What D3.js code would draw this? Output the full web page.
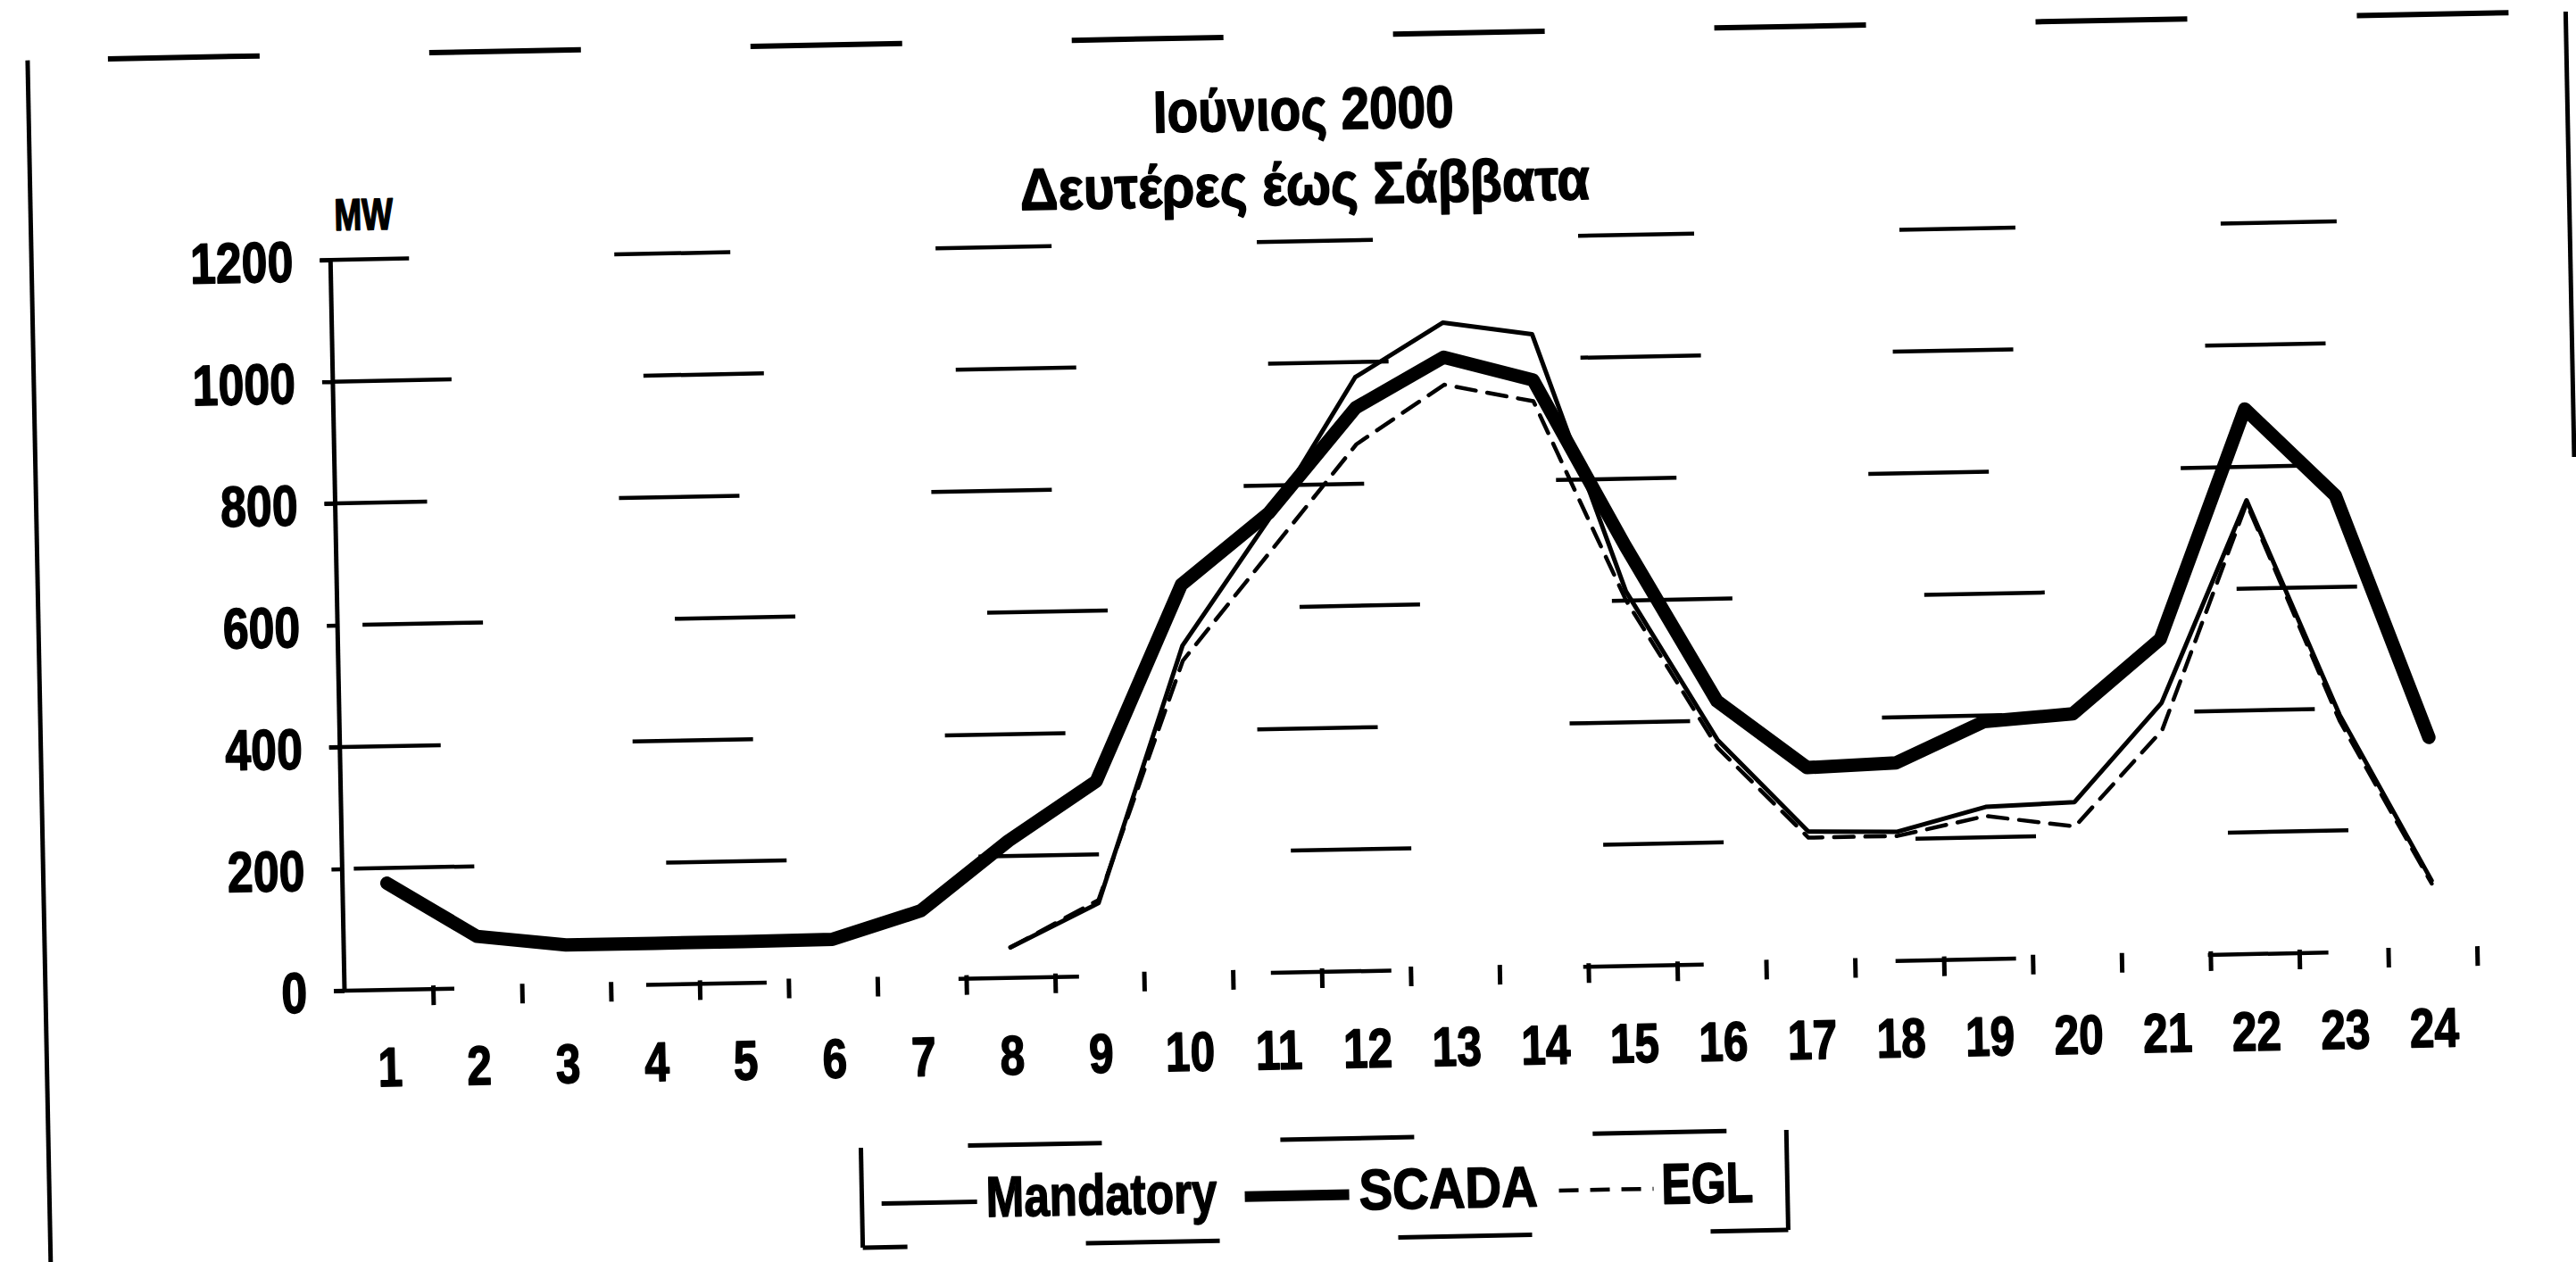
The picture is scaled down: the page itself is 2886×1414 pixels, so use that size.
<!DOCTYPE html>
<html>
<head>
<meta charset="utf-8">
<script src="https://cdn.jsdelivr.net/npm/d3@7"></script>
<style>
  html, body { margin: 0; padding: 0; background: #ffffff; }
  svg { display: block; }
</style>
</head>
<body>
<svg id="chart" width="2886" height="1414"></svg>
<script>
// ---------------- DATA ----------------
const titleLines = ["Ιούνιος 2000", "Δευτέρες έως Σάββατα"];
const unitLabel = "MW";
const hourLabels = ["1","2","3","4","5","6","7","8","9","10","11","12",
                    "13","14","15","16","17","18","19","20","21","22","23","24"];
const yTickValues = [0, 200, 400, 600, 800, 1000, 1200];
const seriesNames = ["Mandatory", "SCADA", "EGL"];
const mandatory = [null, null, null, null, null, null, null, 50, 120, 540, 745, 975,
                   1062, 1040, 615, 368, 215, 212, 250, 255, 415, 745, 390, 115];
const scada     = [175, 85, 68, 68, 68, 69, 113, 225, 320, 640, 755, 925,
                   1005, 965, 690, 432, 320, 325, 390, 400, 520, 895, 750, 350];
const egl       = [null, null, null, null, null, null, null, 50, 125, 515, 690, 865,
                   960, 930, 600, 355, 205, 205, 235, 215, 370, 740, 380, 110];

// ---------------- LAYOUT ----------------
const W = 2886, H = 1414;
const plot = { left: 386, right: 2776, top: 291, bottom: 1110 };
const skew = -1.1; // the scanned page is slightly rotated
const font = "'Liberation Sans Narrow', 'Arial Narrow', 'Liberation Sans', Arial, sans-serif";
const ink = "#000000";
const narrow = 0.81; // condensed (Arial Narrow-like) lettering
const bleed = 1.6;   // heavy, ink-bled lettering of the scan

function condense(sel, f) {
  sel.each(function () {
    const len = this.getComputedTextLength();
    if (len > 0) {
      d3.select(this).attr("textLength", len * f).attr("lengthAdjust", "spacingAndGlyphs");
    }
  });
  sel.attr("stroke", ink).attr("stroke-width", bleed).attr("stroke-linejoin", "round");
}

const svg = d3.select("#chart").attr("viewBox", `0 0 ${W} ${H}`);
svg.append("rect").attr("width", W).attr("height", H).attr("fill", "#ffffff");

const page = svg.append("g")
  .attr("transform", `rotate(${skew},${plot.left},${plot.bottom})`);

const x = d3.scaleBand().domain(hourLabels).range([plot.left, plot.right]).padding(0);
const xc = h => x(h) + x.bandwidth() / 2;
const y = d3.scaleLinear().domain([0, 1200]).range([plot.bottom, plot.top]);

// ---------------- FRAME (outer border, fragmented like the scan) ----------------
const frame = { left: 51, top: 61, right: 2895, bottom: 1500, rightEnd: 560 };
page.append("line").attr("x1", frame.left).attr("x2", frame.left)
  .attr("y1", frame.top).attr("y2", frame.bottom)
  .attr("stroke", ink).attr("stroke-width", 5);
page.append("line").attr("x1", frame.right).attr("x2", frame.right)
  .attr("y1", frame.top).attr("y2", frame.rightEnd)
  .attr("stroke", ink).attr("stroke-width", 5);
page.append("line").attr("x1", frame.left).attr("x2", frame.right)
  .attr("y1", frame.top).attr("y2", frame.top)
  .attr("stroke", ink).attr("stroke-width", 6)
  .attr("stroke-dasharray", "170 190").attr("stroke-dashoffset", -90);

// ---------------- TITLE ----------------
const titleX = 1479;
const t1 = page.append("text").attr("x", titleX).attr("y", 166)
  .attr("text-anchor", "middle").attr("font-family", font)
  .attr("font-weight", "bold").attr("font-size", 66).attr("fill", ink)
  .text(titleLines[0]);
const t2 = page.append("text").attr("x", titleX).attr("y", 250)
  .attr("text-anchor", "middle").attr("font-family", font)
  .attr("font-weight", "bold").attr("font-size", 66).attr("fill", ink)
  .text(titleLines[1]);
condense(t1, 0.86);
condense(t2, 0.90);

// unit label
const mw = page.append("text").attr("x", 424).attr("y", 258)
  .attr("text-anchor", "middle").attr("font-family", font)
  .attr("font-weight", "bold").attr("font-size", 50).attr("fill", ink)
  .text(unitLabel);
condense(mw, 0.74);

// ---------------- GRIDLINES (broken, as on the scan) ----------------
const gridOffsets = [0, -25, 10, -40, 20, -10, 30];
page.append("g").selectAll("line")
  .data(yTickValues)
  .join("line")
  .attr("x1", plot.left - 12).attr("x2", plot.right)
  .attr("y1", d => y(d)).attr("y2", d => y(d))
  .attr("stroke", ink).attr("stroke-width", 4.5)
  .attr("stroke-dasharray", d => d === 1200 ? "130 230" : "135 215")
  .attr("stroke-dashoffset", (d, i) => gridOffsets[i]);

// ---------------- AXES ----------------
page.append("line").attr("x1", plot.left).attr("x2", plot.left)
  .attr("y1", y(0)).attr("y2", y(1200))
  .attr("stroke", ink).attr("stroke-width", 5);

const yAxis = d3.axisLeft(y).tickValues(yTickValues).tickSize(12).tickPadding(30)
  .tickFormat(d3.format("d"));
const gy = page.append("g").attr("transform", `translate(${plot.left},0)`).call(yAxis);
gy.select(".domain").remove();
gy.selectAll(".tick line").attr("stroke", ink).attr("stroke-width", 4.5);
gy.selectAll(".tick text")
  .attr("font-family", font).attr("font-weight", "bold")
  .attr("font-size", 64).attr("fill", ink).attr("dy", "0.36em");
condense(gy.selectAll(".tick text"), narrow);

const xAxis = d3.axisBottom(x).tickSize(0).tickPadding(0);
const gx = page.append("g").attr("transform", `translate(0,${plot.bottom})`).call(xAxis);
gx.select(".domain").remove();
gx.selectAll(".tick text")
  .attr("font-family", font).attr("font-weight", "bold")
  .attr("font-size", 62).attr("fill", ink)
  .attr("y", 108).attr("dy", 0);
condense(gx.selectAll(".tick text"), 0.8);
const boundaries = hourLabels.map(h => x(h)).concat([plot.right]);
page.append("g").selectAll("line")
  .data(boundaries.slice(1))
  .join("line")
  .attr("x1", d => d).attr("x2", d => d)
  .attr("y1", plot.bottom - 4).attr("y2", plot.bottom + 18)
  .attr("stroke", ink).attr("stroke-width", 5);

// ---------------- SERIES ----------------
const lineGen = d3.line()
  .defined(d => d != null)
  .x((d, i) => xc(hourLabels[i]))
  .y(d => y(d));

const seriesStyles = {
  "EGL":       { data: egl,       width: 4.5, dash: "22 13" },
  "Mandatory": { data: mandatory, width: 5,   dash: null },
  "SCADA":     { data: scada,     width: 15,  dash: null }
};
["EGL", "Mandatory", "SCADA"].forEach(name => {
  const s = seriesStyles[name];
  page.append("path")
    .datum(s.data)
    .attr("fill", "none")
    .attr("stroke", ink)
    .attr("stroke-width", s.width)
    .attr("stroke-linejoin", "round")
    .attr("stroke-linecap", "round")
    .attr("stroke-dasharray", s.dash)
    .attr("d", lineGen);
});

// ---------------- LEGEND ----------------
const lg = { left: 961, right: 1998, top: 1297, bottom: 1409, base: 1377, mid: 1360 };
page.append("line").attr("x1", lg.left).attr("x2", lg.left)
  .attr("y1", lg.top).attr("y2", lg.bottom).attr("stroke", ink).attr("stroke-width", 5);
page.append("line").attr("x1", lg.right).attr("x2", lg.right)
  .attr("y1", lg.top).attr("y2", lg.bottom).attr("stroke", ink).attr("stroke-width", 5);
[lg.top, lg.bottom].forEach((yy, i) => {
  page.append("line").attr("x1", lg.left).attr("x2", lg.right)
    .attr("y1", yy).attr("y2", yy).attr("stroke", ink).attr("stroke-width", 5)
    .attr("stroke-dasharray", "150 200").attr("stroke-dashoffset", i ? -250 : -120);
});

const legendItems = [
  { name: seriesNames[0], sx1: 983,  sx2: 1090, tx: 1100, f: 0.80 },
  { name: seriesNames[1], sx1: 1390, sx2: 1507, tx: 1518, f: 0.88 },
  { name: seriesNames[2], sx1: 1742, sx2: 1848, tx: 1857, f: 0.78 }
];
legendItems.forEach(it => {
  const s = seriesStyles[it.name];
  page.append("line")
    .attr("x1", it.sx1).attr("x2", it.sx2)
    .attr("y1", lg.mid).attr("y2", lg.mid)
    .attr("stroke", ink).attr("stroke-width", Math.min(s.width, 12))
    .attr("stroke-dasharray", s.dash);
  const tx = page.append("text").attr("x", it.tx).attr("y", lg.base)
    .attr("font-family", font).attr("font-weight", "bold")
    .attr("font-size", 64).attr("fill", ink)
    .text(it.name);
  condense(tx, it.f);
});
</script>
</body>
</html>
